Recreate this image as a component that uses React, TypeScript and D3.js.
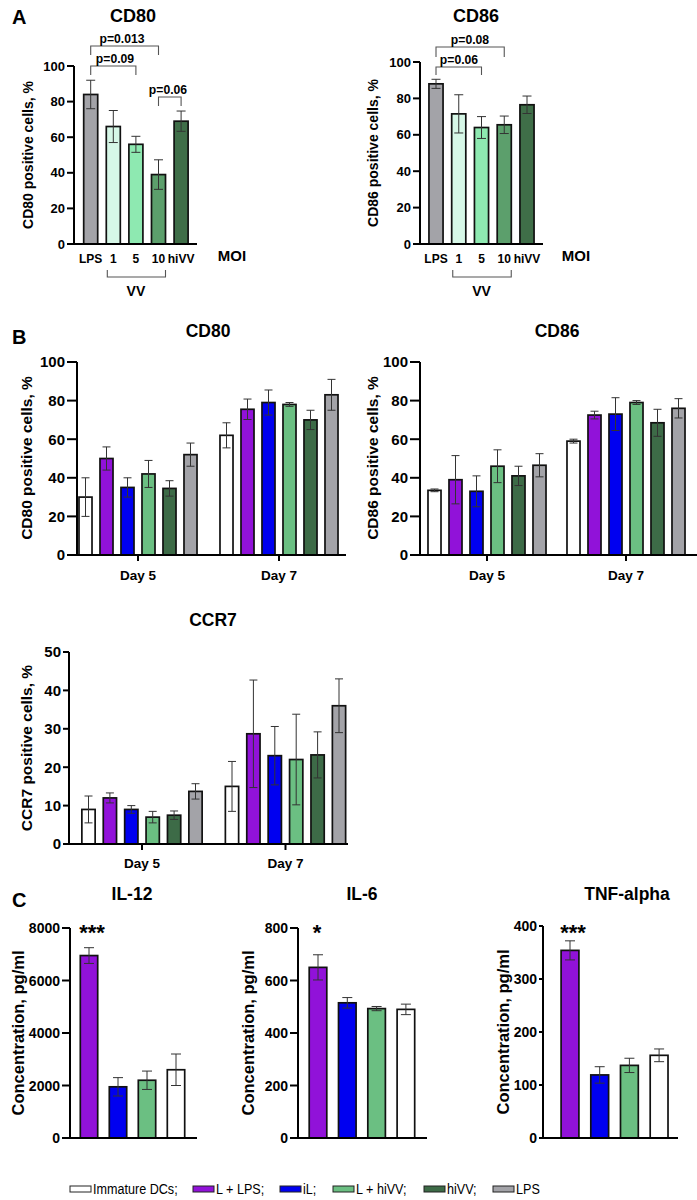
import React from 'react';
import * as d3 from 'd3';

const FONT = '"Liberation Sans", Arial, Helvetica, sans-serif';

// ---------- Panel A data ----------
const aCategories = ['LPS', '1', '5', '10', 'hiVV'];
const aColors = ['#a3a3a8', '#d6f7e7', '#8ee9b1', '#5c9f6c', '#3f6e48'];
const aCD80Mean = [84, 66, 56, 39, 69];
const aCD80Sd = [8, 9, 4.5, 8.3, 5.7];
const aCD86Mean = [88, 71.5, 64, 65.5, 76.5];
const aCD86Sd = [2.5, 10.5, 6, 4.8, 4.8];
const aTicks = [0, 20, 40, 60, 80, 100];

// ---------- Panel B data ----------
const bGroups = ['Day 5', 'Day 7'];
const bSeries = ['Immature DCs', 'L + LPS', 'iL', 'L + hiVV', 'hiVV', 'LPS'];
const bColors = ['#ffffff', '#9112d9', '#0000f0', '#6bbf82', '#3d6b47', '#a3a3a8'];
const bCD80Day5 = [30, 50, 35, 42, 34.5, 52];
const bCD80Day5Sd = [10, 6, 5, 7, 4, 6];
const bCD80Day7 = [62, 75.5, 79, 78, 70, 83];
const bCD80Day7Sd = [6.5, 5.3, 6.5, 1, 5, 8];
const bCD86Day5 = [33.5, 39, 33, 46, 41, 46.5];
const bCD86Day5Sd = [0.7, 12.5, 8, 8.5, 5, 6];
const bCD86Day7 = [59, 72.5, 73, 79, 68.5, 76];
const bCD86Day7Sd = [1, 2, 8.5, 1, 7, 5];
const bCCR7Day5 = [9, 12, 9, 7, 7.5, 13.7];
const bCCR7Day5Sd = [3.5, 1.3, 1, 1.5, 1.1, 2];
const bCCR7Day7 = [15, 28.7, 23, 22, 23.2, 36];
const bCCR7Day7Sd = [6.5, 14, 7.6, 11.8, 6, 7];
const bTicks = [0, 20, 40, 60, 80, 100];
const ccr7Ticks = [0, 10, 20, 30, 40, 50];

// ---------- Panel C data ----------
const cCategories = ['L + LPS', 'iL', 'L + hiVV', 'Immature DCs'];
const cColors = ['#9112d9', '#0000f0', '#6bbf82', '#ffffff'];
const il12Mean = [6950, 1950, 2200, 2600];
const il12Sd = [300, 350, 350, 600];
const il6Mean = [650, 515, 493, 490];
const il6Sd = [48, 20, 8, 20];
const tnfMean = [354, 119, 137, 156];
const tnfSd = [18, 15.5, 13.5, 12];
const il12Ticks = [0, 2000, 4000, 6000, 8000];
const il6Ticks = [0, 200, 400, 600, 800];
const tnfTicks = [0, 100, 200, 300, 400];

const legendLabels = ['Immature DCs;', 'L + LPS;', 'iL;', 'L + hiVV;', 'hiVV;', 'LPS'];

type YAxisProps = {
  y: d3.ScaleLinear<number, number>;
  ticks: number[];
  axisX: number;
  axisEnd: number;
  tickLen: number;
  fontSize: number;
};

function Axes({ y, ticks, axisX, axisEnd, tickLen, fontSize }: YAxisProps) {
  const top = y(ticks[ticks.length - 1]);
  const bottom = y(0);
  return (
    <g>
      <line x1={axisX} x2={axisX} y1={bottom + 1} y2={top} stroke="#000" strokeWidth={2} />
      <line x1={axisX - tickLen} x2={axisEnd} y1={bottom} y2={bottom} stroke="#000" strokeWidth={2} />
      {ticks.map((t) => (
        <g key={t}>
          <line x1={axisX - tickLen} x2={axisX} y1={y(t)} y2={y(t)} stroke="#000" strokeWidth={2} />
          <text
            x={axisX - tickLen - 2}
            y={y(t)}
            dy="0.36em"
            textAnchor="end"
            fontSize={fontSize}
            fontWeight="bold"
            fontFamily={FONT}
          >
            {t}
          </text>
        </g>
      ))}
    </g>
  );
}

function Bar({ cx, w, y, v, sd, color, cap }: { cx: number; w: number; y: d3.ScaleLinear<number, number>; v: number; sd: number; color: string; cap: number }) {
  return (
    <g>
      <rect x={cx - w / 2} y={y(v)} width={w} height={y(0) - y(v)} fill={color} stroke="#111" strokeWidth={1.7} />
      <line x1={cx} x2={cx} y1={y(v - sd)} y2={y(v + sd)} stroke="#333" strokeWidth={1} />
      <line x1={cx - cap / 2} x2={cx + cap / 2} y1={y(v + sd)} y2={y(v + sd)} stroke="#333" strokeWidth={1} />
      <line x1={cx - cap / 2} x2={cx + cap / 2} y1={y(v - sd)} y2={y(v - sd)} stroke="#333" strokeWidth={1} />
    </g>
  );
}

function YLabel({ x, yc, text, fontSize }: { x: number; yc: number; text: string; fontSize: number }) {
  return (
    <text
      transform={`translate(${x},${yc}) rotate(-90)`}
      textAnchor="middle"
      dy="0.35em"
      fontSize={fontSize}
      fontWeight="bold"
      fontFamily={FONT}
    >
      {text}
    </text>
  );
}

function Title({ x, y, text, fontSize = 17.5 }: { x: number; y: number; text: string; fontSize?: number }) {
  return (
    <text x={x} y={y} textAnchor="middle" fontSize={fontSize} fontWeight="bold" fontFamily={FONT}>
      {text}
    </text>
  );
}

type SimpleProps = {
  cats: string[];
  means: number[];
  sds: number[];
  colors: string[];
  ticks: number[];
  axisX: number;
  axisEnd: number;
  y0: number;
  yTop: number;
  firstCenter: number;
  step: number;
  barFrac: number;
  tickLen: number;
  tickFont: number;
  cap: number;
};

function SimpleBars(p: SimpleProps) {
  const yMax = p.ticks[p.ticks.length - 1];
  const y = d3.scaleLinear().domain([0, yMax]).range([p.y0, p.yTop]);
  const n = p.cats.length;
  const x = d3
    .scaleBand<string>()
    .domain(p.cats)
    .range([p.firstCenter - p.step / 2, p.firstCenter - p.step / 2 + n * p.step])
    .paddingInner(1 - p.barFrac)
    .paddingOuter((1 - p.barFrac) / 2);
  const w = x.bandwidth();
  return (
    <g>
      {p.cats.map((c, i) => (
        <Bar key={c} cx={(x(c) as number) + w / 2} w={w} y={y} v={p.means[i]} sd={p.sds[i]} color={p.colors[i]} cap={p.cap} />
      ))}
      <Axes y={y} ticks={p.ticks} axisX={p.axisX} axisEnd={p.axisEnd} tickLen={p.tickLen} fontSize={p.tickFont} />
    </g>
  );
}

type GroupProps = {
  d5: number[];
  d5sd: number[];
  d7: number[];
  d7sd: number[];
  ticks: number[];
  axisX: number;
  axisEnd: number;
  y0: number;
  yTop: number;
  c5: number;
  c7: number;
  step: number;
  tickLen: number;
  tickFont: number;
  dayY: number;
};

function GroupedBars(p: GroupProps) {
  const yMax = p.ticks[p.ticks.length - 1];
  const y = d3.scaleLinear().domain([0, yMax]).range([p.y0, p.yTop]);
  const xg = d3.scalePoint<string>().domain(bGroups).range([p.c5, p.c7]);
  const n = bSeries.length;
  const xs = d3
    .scaleBand<string>()
    .domain(bSeries)
    .range([(-n / 2) * p.step, (n / 2) * p.step])
    .paddingInner(0.38)
    .paddingOuter(0.19);
  const w = xs.bandwidth();
  const vals = [p.d5, p.d7];
  const sds = [p.d5sd, p.d7sd];
  return (
    <g>
      {bGroups.map((g, gi) => (
        <g key={g}>
          {bSeries.map((s, si) => (
            <Bar
              key={s}
              cx={(xg(g) as number) + (xs(s) as number) + w / 2}
              w={w}
              y={y}
              v={vals[gi][si]}
              sd={sds[gi][si]}
              color={bColors[si]}
              cap={8}
            />
          ))}
          <line x1={xg(g)} x2={xg(g)} y1={p.y0} y2={p.y0 + 6} stroke="#000" strokeWidth={2} />
          <text x={xg(g)} y={p.dayY} textAnchor="middle" fontSize={13.5} fontWeight="bold" fontFamily={FONT}>
            {g}
          </text>
        </g>
      ))}
      <Axes y={y} ticks={p.ticks} axisX={p.axisX} axisEnd={p.axisEnd} tickLen={p.tickLen} fontSize={p.tickFont} />
    </g>
  );
}

function Bracket({ x1, x2, yTop, drop, label, lx }: { x1: number; x2: number; yTop: number; drop: number; label: string; lx: number }) {
  return (
    <g>
      <path d={`M${x1},${yTop + drop}V${yTop}H${x2}V${yTop + drop}`} fill="none" stroke="#555" strokeWidth={1.1} />
      <text x={lx} y={yTop - 3} textAnchor="middle" fontSize={12.2} fontWeight="bold" fontFamily={FONT}>
        {label}
      </text>
    </g>
  );
}

function PanelAChart({ means, sds, axisX, yTop, firstCenter, step, axisEnd, ylabel, ylabelX, title, titleX, moiX, brackets }: any) {
  const centers = aCategories.map((_, i) => firstCenter + i * step);
  return (
    <g>
      <Title x={titleX} y={22} text={title} fontSize={18} />
      <SimpleBars
        cats={aCategories}
        means={means}
        sds={sds}
        colors={aColors}
        ticks={aTicks}
        axisX={axisX}
        axisEnd={axisEnd}
        y0={244}
        yTop={yTop}
        firstCenter={firstCenter}
        step={step}
        barFrac={0.62}
        tickLen={7}
        tickFont={13}
        cap={9}
      />
      <YLabel x={ylabelX} yc={(244 + yTop) / 2} text={ylabel} fontSize={14} />
      {aCategories.map((c, i) => (
        <text key={c} x={centers[i]} y={263} textAnchor="middle" fontSize={12} fontWeight="bold" fontFamily={FONT}>
          {c}
        </text>
      ))}
      <text x={moiX} y={261} textAnchor="middle" fontSize={15} fontWeight="bold" fontFamily={FONT}>
        MOI
      </text>
      <path
        d={`M${centers[1] - 6},270V277H${centers[3] + 7}V270`}
        fill="none"
        stroke="#555"
        strokeWidth={1.1}
      />
      <text x={(centers[1] + centers[3]) / 2} y={296} textAnchor="middle" fontSize={14} fontWeight="bold" fontFamily={FONT}>
        VV
      </text>
      {brackets.map((b: any, i: number) => (
        <Bracket key={i} x1={centers[b.from]} x2={centers[b.to]} yTop={b.y} drop={b.drop} label={b.label} lx={b.lx} />
      ))}
    </g>
  );
}

function PanelLetter({ x, y, text }: { x: number; y: number; text: string }) {
  return (
    <text x={x} y={y} fontSize={20} fontWeight="bold" fontFamily={FONT}>
      {text}
    </text>
  );
}

function Legend() {
  const rectX = [70, 193, 280, 333, 424, 493];
  return (
    <g>
      {legendLabels.map((l, i) => (
        <g key={l}>
          <rect x={rectX[i]} y={1186} width={21} height={6} fill={bColors[i]} stroke="#222" strokeWidth={1} />
          <text
            x={rectX[i] + 23}
            y={1194.5}
            fontSize={15}
            fontFamily={FONT}
            transform={`translate(${rectX[i] + 23},0) scale(0.84,1) translate(${-(rectX[i] + 23)},0)`}
          >
            {l}
          </text>
        </g>
      ))}
    </g>
  );
}

export default function App() {
  return (
    <svg
      width={697}
      height={1200}
      viewBox="0 0 697 1200"
      style={{ position: 'absolute', left: 0, top: 0, background: '#fff' }}
    >
      <rect x={0} y={0} width={697} height={1200} fill="#fff" />
      {/* Panel A */}
      <PanelLetter x={12} y={24} text="A" />
      <PanelAChart
        means={aCD80Mean}
        sds={aCD80Sd}
        axisX={74}
        yTop={66}
        firstCenter={90.7}
        step={22.6}
        axisEnd={197}
        ylabel="CD80 positive cells, %"
        ylabelX={28}
        title="CD80"
        titleX={133}
        moiX={232}
        brackets={[
          { from: 0, to: 3, y: 46, drop: 9, label: 'p=0.013', lx: 122 },
          { from: 0, to: 2, y: 66, drop: 9, label: 'p=0.09', lx: 115 },
          { from: 3, to: 4, y: 97, drop: 9, label: 'p=0.06', lx: 168 },
        ]}
      />
      <PanelAChart
        means={aCD86Mean}
        sds={aCD86Sd}
        axisX={420}
        yTop={62}
        firstCenter={436}
        step={22.75}
        axisEnd={543}
        ylabel="CD86 positive cells, %"
        ylabelX={373}
        title="CD86"
        titleX={476}
        moiX={576}
        brackets={[
          { from: 0, to: 3, y: 47, drop: 10, label: 'p=0.08', lx: 470 },
          { from: 0, to: 2, y: 67, drop: 8, label: 'p=0.06', lx: 459 },
        ]}
      />

      {/* Panel B */}
      <PanelLetter x={12} y={344} text="B" />
      <Title x={208} y={337} text="CD80" />
      <GroupedBars
        d5={bCD80Day5}
        d5sd={bCD80Day5Sd}
        d7={bCD80Day7}
        d7sd={bCD80Day7Sd}
        ticks={bTicks}
        axisX={77}
        axisEnd={346}
        y0={555}
        yTop={362}
        c5={138}
        c7={279}
        step={21}
        tickLen={10}
        tickFont={15}
        dayY={580}
      />
      <YLabel x={27} yc={458} text="CD80 positive cells, %" fontSize={15.5} />

      <Title x={557} y={337} text="CD86" />
      <GroupedBars
        d5={bCD86Day5}
        d5sd={bCD86Day5Sd}
        d7={bCD86Day7}
        d7sd={bCD86Day7Sd}
        ticks={bTicks}
        axisX={420}
        axisEnd={697}
        y0={555}
        yTop={362}
        c5={487}
        c7={626}
        step={21}
        tickLen={10}
        tickFont={15}
        dayY={580}
      />
      <YLabel x={373} yc={458} text="CD86 positive cells, %" fontSize={15.5} />

      <Title x={213} y={626} text="CCR7" />
      <GroupedBars
        d5={bCCR7Day5}
        d5sd={bCCR7Day5Sd}
        d7={bCCR7Day7}
        d7sd={bCCR7Day7Sd}
        ticks={ccr7Ticks}
        axisX={69}
        axisEnd={348}
        y0={844}
        yTop={652}
        c5={142}
        c7={285.5}
        step={21.4}
        tickLen={6}
        tickFont={15}
        dayY={868}
      />
      <YLabel x={27} yc={748} text="CCR7 positive cells, %" fontSize={15.5} />

      {/* Panel C */}
      <PanelLetter x={12} y={907} text="C" />
      <Title x={132} y={900} text="IL-12" />
      <SimpleBars
        cats={cCategories}
        means={il12Mean}
        sds={il12Sd}
        colors={cColors}
        ticks={il12Ticks}
        axisX={70}
        axisEnd={197}
        y0={1138}
        yTop={928}
        firstCenter={89}
        step={29}
        barFrac={0.6}
        tickLen={8}
        tickFont={14}
        cap={10}
      />
      <YLabel x={18} yc={1033} text="Concentration, pg/ml" fontSize={16.5} />
      <text x={92} y={940} textAnchor="middle" fontSize={22} fontWeight="bold" fontFamily={FONT}>***</text>

      <Title x={362} y={900} text="IL-6" />
      <SimpleBars
        cats={cCategories}
        means={il6Mean}
        sds={il6Sd}
        colors={cColors}
        ticks={il6Ticks}
        axisX={298}
        axisEnd={427}
        y0={1138}
        yTop={928}
        firstCenter={318}
        step={29.3}
        barFrac={0.6}
        tickLen={8}
        tickFont={14}
        cap={10}
      />
      <YLabel x={248} yc={1033} text="Concentration, pg/ml" fontSize={16.5} />
      <text x={317} y={940} textAnchor="middle" fontSize={22} fontWeight="bold" fontFamily={FONT}>*</text>

      <Title x={627} y={900} text="TNF-alpha" />
      <SimpleBars
        cats={cCategories}
        means={tnfMean}
        sds={tnfSd}
        colors={cColors}
        ticks={tnfTicks}
        axisX={543}
        axisEnd={678}
        y0={1138}
        yTop={926}
        firstCenter={570}
        step={29.7}
        barFrac={0.6}
        tickLen={4}
        tickFont={14}
        cap={10}
      />
      <YLabel x={503} yc={1032} text="Concentration, pg/ml" fontSize={16.5} />
      <text x={573} y={940} textAnchor="middle" fontSize={22} fontWeight="bold" fontFamily={FONT}>***</text>

      <Legend />
    </svg>
  );
}
